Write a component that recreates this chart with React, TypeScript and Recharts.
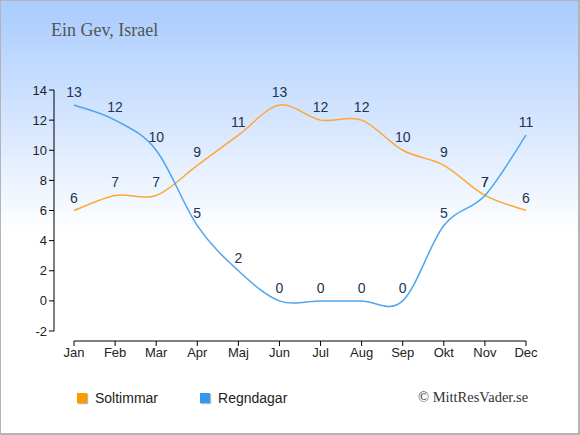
import { LineChart, Line, XAxis, YAxis, Legend, LabelList } from 'recharts';

const months = ['Jan', 'Feb', 'Mar', 'Apr', 'Maj', 'Jun', 'Jul', 'Aug', 'Sep', 'Okt', 'Nov', 'Dec'];
const soltimmar = [6, 7, 7, 9, 11, 13, 12, 12, 10, 9, 7, 6];
const regndagar = [13, 12, 10, 5, 2, 0, 0, 0, 0, 5, 7, 11];
const yTicks = [-2, 0, 2, 4, 6, 8, 10, 12, 14];

const ORANGE = '#ffa733';
const BLUE = '#4ea5ee';

const data = months.map((m, i) => ({ month: m, sol: soltimmar[i], regn: regndagar[i] }));

// catmull-rom style curve (recharts accepts a d3 curve factory as line type)
const smoothCurve = (context: any) => {
  let pts: number[][] = [];
  return {
    areaStart() {},
    areaEnd() {},
    lineStart() {
      pts = [];
    },
    point(x: number, y: number) {
      pts.push([+x, +y]);
    },
    lineEnd() {
      if (!pts.length) return;
      context.moveTo(pts[0][0], pts[0][1]);
      for (let i = 0; i < pts.length - 1; i++) {
        const p0 = pts[i - 1] || pts[i];
        const p1 = pts[i];
        const p2 = pts[i + 1];
        const p3 = pts[i + 2] || p2;
        context.bezierCurveTo(
          p1[0] + (p2[0] - p0[0]) / 6,
          p1[1] + (p2[1] - p0[1]) / 6,
          p2[0] - (p3[0] - p1[0]) / 6,
          p2[1] - (p3[1] - p1[1]) / 6,
          p2[0],
          p2[1]
        );
      }
    },
  };
};

const legendItems = [
  { name: 'Soltimmar', color: '#ff9900' },
  { name: 'Regndagar', color: '#3399ee' },
];

const LegendContent = () => (
  <div style={{ display: 'flex', alignItems: 'center', fontSize: 14, color: '#222' }}>
    {legendItems.map((it) => (
      <div key={it.name} style={{ display: 'flex', alignItems: 'center', marginRight: 42 }}>
        <span
          style={{
            display: 'inline-block',
            width: 10,
            height: 10,
            background: it.color,
            boxShadow: '1px 1px 1px #b8b8b8',
            marginRight: 8,
          }}
        />
        <span>{it.name}</span>
      </div>
    ))}
  </div>
);

const App = () => {
  return (
    <div
      style={{
        position: 'fixed',
        top: 0,
        left: 0,
        width: 580,
        height: 435,
        background: 'linear-gradient(to bottom, #a9cbfe 0px, #ffffff 235px)',
        boxShadow: 'inset 1px 1px 0 #b4b4b4, inset -2px -2px 0 #b4b4b4',
        fontFamily: '"Liberation Sans", Arial, sans-serif',
      }}
    >
      <div
        style={{
          position: 'absolute',
          left: 51,
          top: 20,
          fontFamily: '"Liberation Serif", "Times New Roman", serif',
          fontSize: 18,
          color: '#555',
        }}
      >
        Ein Gev, Israel
      </div>
      <div
        style={{
          position: 'absolute',
          left: 418,
          top: 389,
          fontFamily: '"Liberation Serif", "Times New Roman", serif',
          fontSize: 14.5,
          color: '#333',
        }}
      >
        © MittResVader.se
      </div>
      <div style={{ position: 'absolute', top: 0, left: 0 }}>
        <LineChart width={580} height={435} data={data} margin={{ top: 90, right: 54, bottom: 64, left: 24 }}>
          <XAxis
            dataKey="month"
            padding={{ left: 20, right: 0 }}
            axisLine={{ stroke: '#000', strokeDasharray: '0 20 1000' }}
            tickLine={{ stroke: '#000' }}
            tickSize={5}
            tickMargin={2}
            height={30}
            tick={{ fill: '#222', fontSize: 13 }}
            interval={0}
          />
          <YAxis
            domain={[-2, 14]}
            ticks={yTicks}
            padding={{ top: 0, bottom: 10 }}
            width={30}
            axisLine={{ stroke: '#000', strokeDasharray: '241 100' }}
            tickLine={{ stroke: '#000' }}
            tickSize={5}
            tickMargin={2}
            tick={{ fill: '#222', fontSize: 13 }}
            interval={0}
          />
          <Legend
            layout="horizontal"
            verticalAlign="middle"
            align="center"
            content={<LegendContent />}
            wrapperStyle={{ left: 77, top: 390, width: 300, height: 18 }}
          />
          <Line
            dataKey="sol"
            name="Soltimmar"
            type={smoothCurve as any}
            stroke={ORANGE}
            strokeWidth={1.5}
            dot={false}
            activeDot={false}
            isAnimationActive={false}
          >
            <LabelList dataKey="sol" position="top" offset={8} fill="#223355" fontSize={14} />
          </Line>
          <Line
            dataKey="regn"
            name="Regndagar"
            type={smoothCurve as any}
            stroke={BLUE}
            strokeWidth={1.5}
            dot={false}
            activeDot={false}
            isAnimationActive={false}
          >
            <LabelList dataKey="regn" position="top" offset={8} fill="#223355" fontSize={14} />
          </Line>
        </LineChart>
      </div>
    </div>
  );
};

export default App;
